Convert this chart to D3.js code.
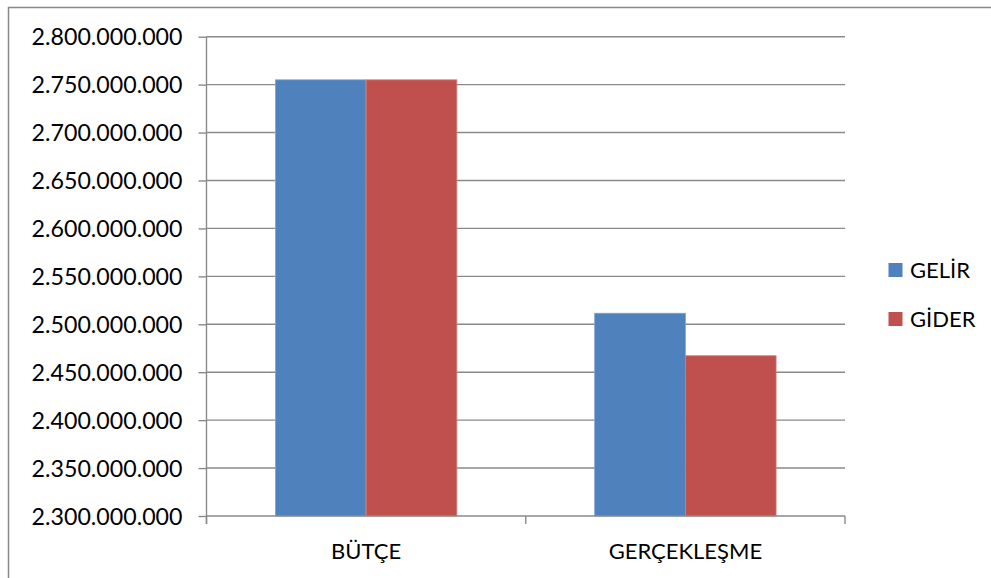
<!DOCTYPE html>
<html>
<head>
<meta charset="utf-8">
<script src="https://cdn.jsdelivr.net/npm/d3@7"></script>
<style>
html,body{margin:0;padding:0;background:#fff;}
svg{display:block;}
text{font-family:Lato,"Open Sans",sans-serif;fill:#000;}
</style>
</head>
<body>
<svg id="chart" width="991" height="578"></svg>
<script>
const categories = ["BÜTÇE", "GERÇEKLEŞME"];
const seriesNames = ["GELİR", "GİDER"];
const gelir = [2755000000, 2511500000];
const gider = [2755000000, 2467200000];
const yTicks = [2300000000, 2350000000, 2400000000, 2450000000, 2500000000, 2550000000, 2600000000, 2650000000, 2700000000, 2750000000, 2800000000];
const colors = ["#4F81BD", "#C0504D"];
const borders = ["#7FA3D0", "#D27E7C"];

const values = [gelir, gider];
const svg = d3.select("#chart");
const W = 991, H = 578;
const L = 206.5, R = 845, T = 36.7, B = 516;
const FS = 22, FSY = 23.2;

// outer border
svg.append("path").attr("d", `M8.5,${H} V7.5 H${W}`).attr("fill","none").attr("stroke","#888").attr("stroke-width",1.5);

const y = d3.scaleLinear().domain([2300000000, 2800000000]).range([B, T]);
const x0 = d3.scaleBand().domain(categories).range([L, R]).padding(0);
const x1 = d3.scaleBand().domain(seriesNames).range([0, x0.bandwidth()]).paddingInner(0).paddingOuter(0.76);

const fmt = v => d3.format(",")(v).replace(/,/g, ".");

// gridlines
svg.append("g").selectAll("line").data(yTicks.filter(v => v !== 2300000000)).join("line")
  .attr("x1", L).attr("x2", R).attr("y1", d => y(d)).attr("y2", d => y(d))
  .attr("stroke", "#8a8a8a").attr("stroke-width", 1.4);

// y axis
const yAxis = d3.axisLeft(y).tickValues(yTicks).tickFormat(fmt).tickSize(8).tickPadding(16);
const gy = svg.append("g").attr("transform", `translate(${L},0)`).call(yAxis);
gy.select(".domain").attr("stroke", "#8a8a8a").attr("stroke-width", 1.4).attr("d", `M0,${T}V${B+8}`);
gy.selectAll(".tick line").attr("stroke", "#8a8a8a").attr("stroke-width", 1.4);
gy.selectAll(".tick text").attr("font-size", FSY).attr("font-family", "Lato, 'Open Sans', sans-serif").attr("fill", "#000").attr("dy", "0.35em");

// bars
const gb = svg.append("g");
categories.forEach((c, i) => {
  seriesNames.forEach((s, j) => {
    gb.append("rect")
      .attr("x", x0(c) + x1(s))
      .attr("y", y(values[j][i]))
      .attr("width", x1.bandwidth())
      .attr("height", y(2300000000) - y(values[j][i]))
      .attr("fill", colors[j])
      .attr("stroke", borders[j]).attr("stroke-width", 0.8);
  });
});

// x axis
const xAxis = d3.axisBottom(x0).tickSize(0).tickPadding(0);
const gx = svg.append("g").attr("transform", `translate(0,${B})`).call(xAxis);
gx.select(".domain").attr("stroke", "#8a8a8a").attr("stroke-width", 1.4).attr("d", `M${L},0H${R}`);
gx.selectAll(".tick text").attr("font-size", FS).attr("font-family", "Lato, 'Open Sans', sans-serif").attr("fill", "#000").attr("y", 43).attr("dy", 0);
// boundary ticks
const bounds = categories.map(c => x0(c)).concat([x0(categories[categories.length-1]) + x0.bandwidth()]);
gx.selectAll(".bt").data(bounds).join("line").attr("class","bt")
  .attr("x1", d => d).attr("x2", d => d).attr("y1", 0).attr("y2", 8)
  .attr("stroke", "#8a8a8a").attr("stroke-width", 1.4);

// legend
const lg = svg.append("g");
seriesNames.forEach((s, j) => {
  const ly = 263 + j * 49;
  lg.append("rect").attr("x", 888.5).attr("y", ly).attr("width", 14).attr("height", 14).attr("fill", colors[j]);
  lg.append("text").attr("x", 910).attr("y", ly + 15).attr("font-size", FS).text(s);
});
</script>
</body>
</html>
